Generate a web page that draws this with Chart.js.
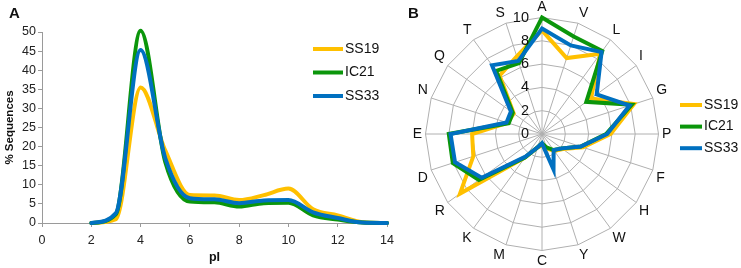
<!DOCTYPE html>
<html>
<head>
<meta charset="utf-8">
<script src="https://cdn.jsdelivr.net/npm/chart.js@4.4.0/dist/chart.umd.min.js"></script>
<style>
  html, body { margin: 0; padding: 0; background: #fff; }
  #wrap { position: relative; width: 741px; height: 268px; overflow: hidden; font-family: "Liberation Sans", Arial, sans-serif; }
  #cA { position: absolute; left: 0; top: 0; width: 400px; height: 268px; }
  #cB { position: absolute; left: 400px; top: 0; width: 341px; height: 268px; }
  .tag { position: absolute; font-weight: bold; font-size: 15px; line-height: 15px; color: #111; }
</style>
</head>
<body>
<div id="wrap">
  <canvas id="cA" width="400" height="268"></canvas>
  <canvas id="cB" width="341" height="268"></canvas>
  <div class="tag" style="left:9px; top:5px;">A</div>
  <div class="tag" style="left:408px; top:5px;">B</div>
</div>
<script>
// series (same order in both panels)
const seriesNames = ['SS19', 'IC21', 'SS33'];
const seriesColors = ['#FFC000', '#0B960B', '#0070C0'];
const seriesOrder = [3, 2, 1]; // blue on top

// Panel A: pI distribution
const pI = [2, 3, 4, 5, 6, 7, 8, 9, 10, 11, 12, 13, 14];
const pI_SS19 = [0, 1.0, 35.5, 19, 7.3, 7.2, 6.0, 7.3, 9.0, 3.6, 2.0, 0.2, 0];
const pI_IC21 = [0, 2.3, 50.3, 16, 5.6, 5.4, 4.3, 5.2, 5.3, 2.0, 0.9, 0.1, 0];
const pI_SS33 = [0, 2.6, 45.3, 17, 6.5, 6.2, 5.2, 5.9, 6.0, 2.8, 1.3, 0.1, 0];
const xTicksA = [0, 2, 4, 6, 8, 10, 12, 14];
const yTicksA = [0, 5, 10, 15, 20, 25, 30, 35, 40, 45, 50];

// Panel B: amino acid composition
const aminoAcids = ['A', 'V', 'L', 'I', 'G', 'P', 'F', 'H', 'W', 'Y', 'C', 'M', 'K', 'R', 'D', 'E', 'N', 'Q', 'T', 'S'];
const aa_SS19 = [8.9, 6.85, 8.5, 5.2, 8.3, 5.9, 3.7, 2.2, 1.8, 1.3, 1.0, 1.2, 2.5, 8.7, 6.2, 6.0, 3.1, 3.0, 6.2, 7.0];
const aa_IC21 = [10, 8.8, 8.8, 4.7, 8.1, 5.5, 3.5, 2.1, 1.7, 1.2, 0.8, 1.2, 2.5, 6.7, 8.05, 8.0, 3.0, 3.1, 6.7, 6.4];
const aa_SS33 = [9.05, 8.0, 8.7, 5.8, 7.9, 5.6, 3.5, 2.1, 1.7, 3.2, 0.8, 1.2, 2.4, 6.4, 7.85, 7.85, 3.2, 3.3, 7.3, 6.6];
const rTicksB = [0, 2, 4, 6, 8, 10];

Chart.defaults.font.family = '"Liberation Sans", Arial, sans-serif';

// legend drawn beside the plot, like the Excel one
const sideLegend = {
    id: 'sideLegend',
    afterDraw(chart, args, opts) {
        const ctx = chart.ctx;
        ctx.save();
        ctx.font = '14px "Liberation Sans", Arial, sans-serif';
        ctx.textBaseline = 'middle';
        ctx.textAlign = 'left';
        ctx.fillStyle = '#111';
        chart.data.datasets.forEach((ds, i) => {
            const y = opts.y + i * opts.dy;
            ctx.strokeStyle = ds.borderColor;
            ctx.lineWidth = 4;
            ctx.beginPath();
            ctx.moveTo(opts.x, y);
            ctx.lineTo(opts.x + opts.len, y);
            ctx.stroke();
            ctx.fillText(ds.label, opts.x + opts.len + 2, y);
        });
        ctx.restore();
    }
};

// radial tick labels sit left of the A spoke
const radarTicks = {
    id: 'radarTicks',
    afterDraw(chart) {
        const s = chart.scales.r;
        const ctx = chart.ctx;
        ctx.save();
        ctx.font = '14.5px "Liberation Sans", Arial, sans-serif';
        ctx.textAlign = 'right';
        ctx.textBaseline = 'middle';
        ctx.fillStyle = '#111';
        rTicksB.forEach(v => {
            ctx.fillText(String(v), s.xCenter - 13, s.yCenter - s.getDistanceFromCenterForValue(v));
        });
        ctx.restore();
    }
};

function lineSet(i, vals) {
    return {
        label: seriesNames[i],
        data: pI.map((x, k) => ({ x: x, y: vals[k] })),
        borderColor: seriesColors[i],
        backgroundColor: seriesColors[i],
        order: seriesOrder[i],
        clip: false
    };
}

function radarSet(i, vals) {
    return {
        label: seriesNames[i],
        data: vals,
        borderColor: seriesColors[i],
        backgroundColor: 'transparent',
        order: seriesOrder[i],
        fill: false
    };
}

const axisGray = '#9A9A9A';

new Chart(document.getElementById('cA'), {
    type: 'line',
    data: { datasets: [lineSet(0, pI_SS19), lineSet(1, pI_IC21), lineSet(2, pI_SS33)] },
    options: {
        responsive: false,
        animation: false,
        layout: { padding: { top: 32, right: 12, left: 0, bottom: 0 } },
        elements: {
            point: { radius: 0 },
            line: { borderWidth: 4, cubicInterpolationMode: 'monotone', borderCapStyle: 'round' }
        },
        plugins: {
            legend: { display: false },
            tooltip: { enabled: false },
            sideLegend: { x: 313, y: 49, dy: 23.5, len: 30 }
        },
        scales: {
            x: {
                type: 'linear', min: 0, max: 14,
                afterBuildTicks: s => { s.ticks = xTicksA.map(v => ({ value: v })); },
                afterFit: s => { s.height = 45; },
                grid: { drawOnChartArea: false, drawTicks: true, tickLength: 4, color: axisGray },
                border: { color: axisGray },
                ticks: { font: { size: 12.5 }, color: '#222', padding: 6, maxRotation: 0 },
                title: { display: true, text: 'pI', font: { size: 12.5, weight: 'bold' }, color: '#111', padding: { top: 0, bottom: 3 } }
            },
            y: {
                min: 0, max: 50,
                afterBuildTicks: s => { s.ticks = yTicksA.map(v => ({ value: v })); },
                afterFit: s => { s.width = 42; },
                grid: { drawOnChartArea: false, drawTicks: true, tickLength: 4, color: axisGray },
                border: { color: axisGray },
                ticks: { font: { size: 12.5 }, color: '#222', padding: 2 },
                title: { display: true, text: '% Sequences', font: { size: 11.5, weight: 'bold' }, color: '#111', padding: { top: 3, bottom: 0 } }
            }
        }
    },
    plugins: [sideLegend]
});

new Chart(document.getElementById('cB'), {
    type: 'radar',
    data: { labels: aminoAcids, datasets: [radarSet(0, aa_SS19), radarSet(1, aa_IC21), radarSet(2, aa_SS33)] },
    options: {
        responsive: false,
        animation: false,
        layout: { padding: { left: 0, right: 57, top: 0, bottom: 0 } },
        elements: {
            point: { radius: 0 },
            line: { borderWidth: 4, tension: 0, borderJoinStyle: 'miter' }
        },
        plugins: {
            legend: { display: false },
            tooltip: { enabled: false },
            sideLegend: { x: 280, y: 105, dy: 21.6, len: 22 }
        },
        scales: {
            r: {
                min: 0, max: 10,
                ticks: { display: false, stepSize: 2 },
                grid: { color: '#B0B0B0', lineWidth: 1 },
                angleLines: { color: '#B0B0B0', lineWidth: 1 },
                pointLabels: { font: { size: 14, lineHeight: 1 }, padding: 3.5, color: '#111' }
            }
        }
    },
    plugins: [sideLegend, radarTicks]
});
</script>
</body>
</html>
